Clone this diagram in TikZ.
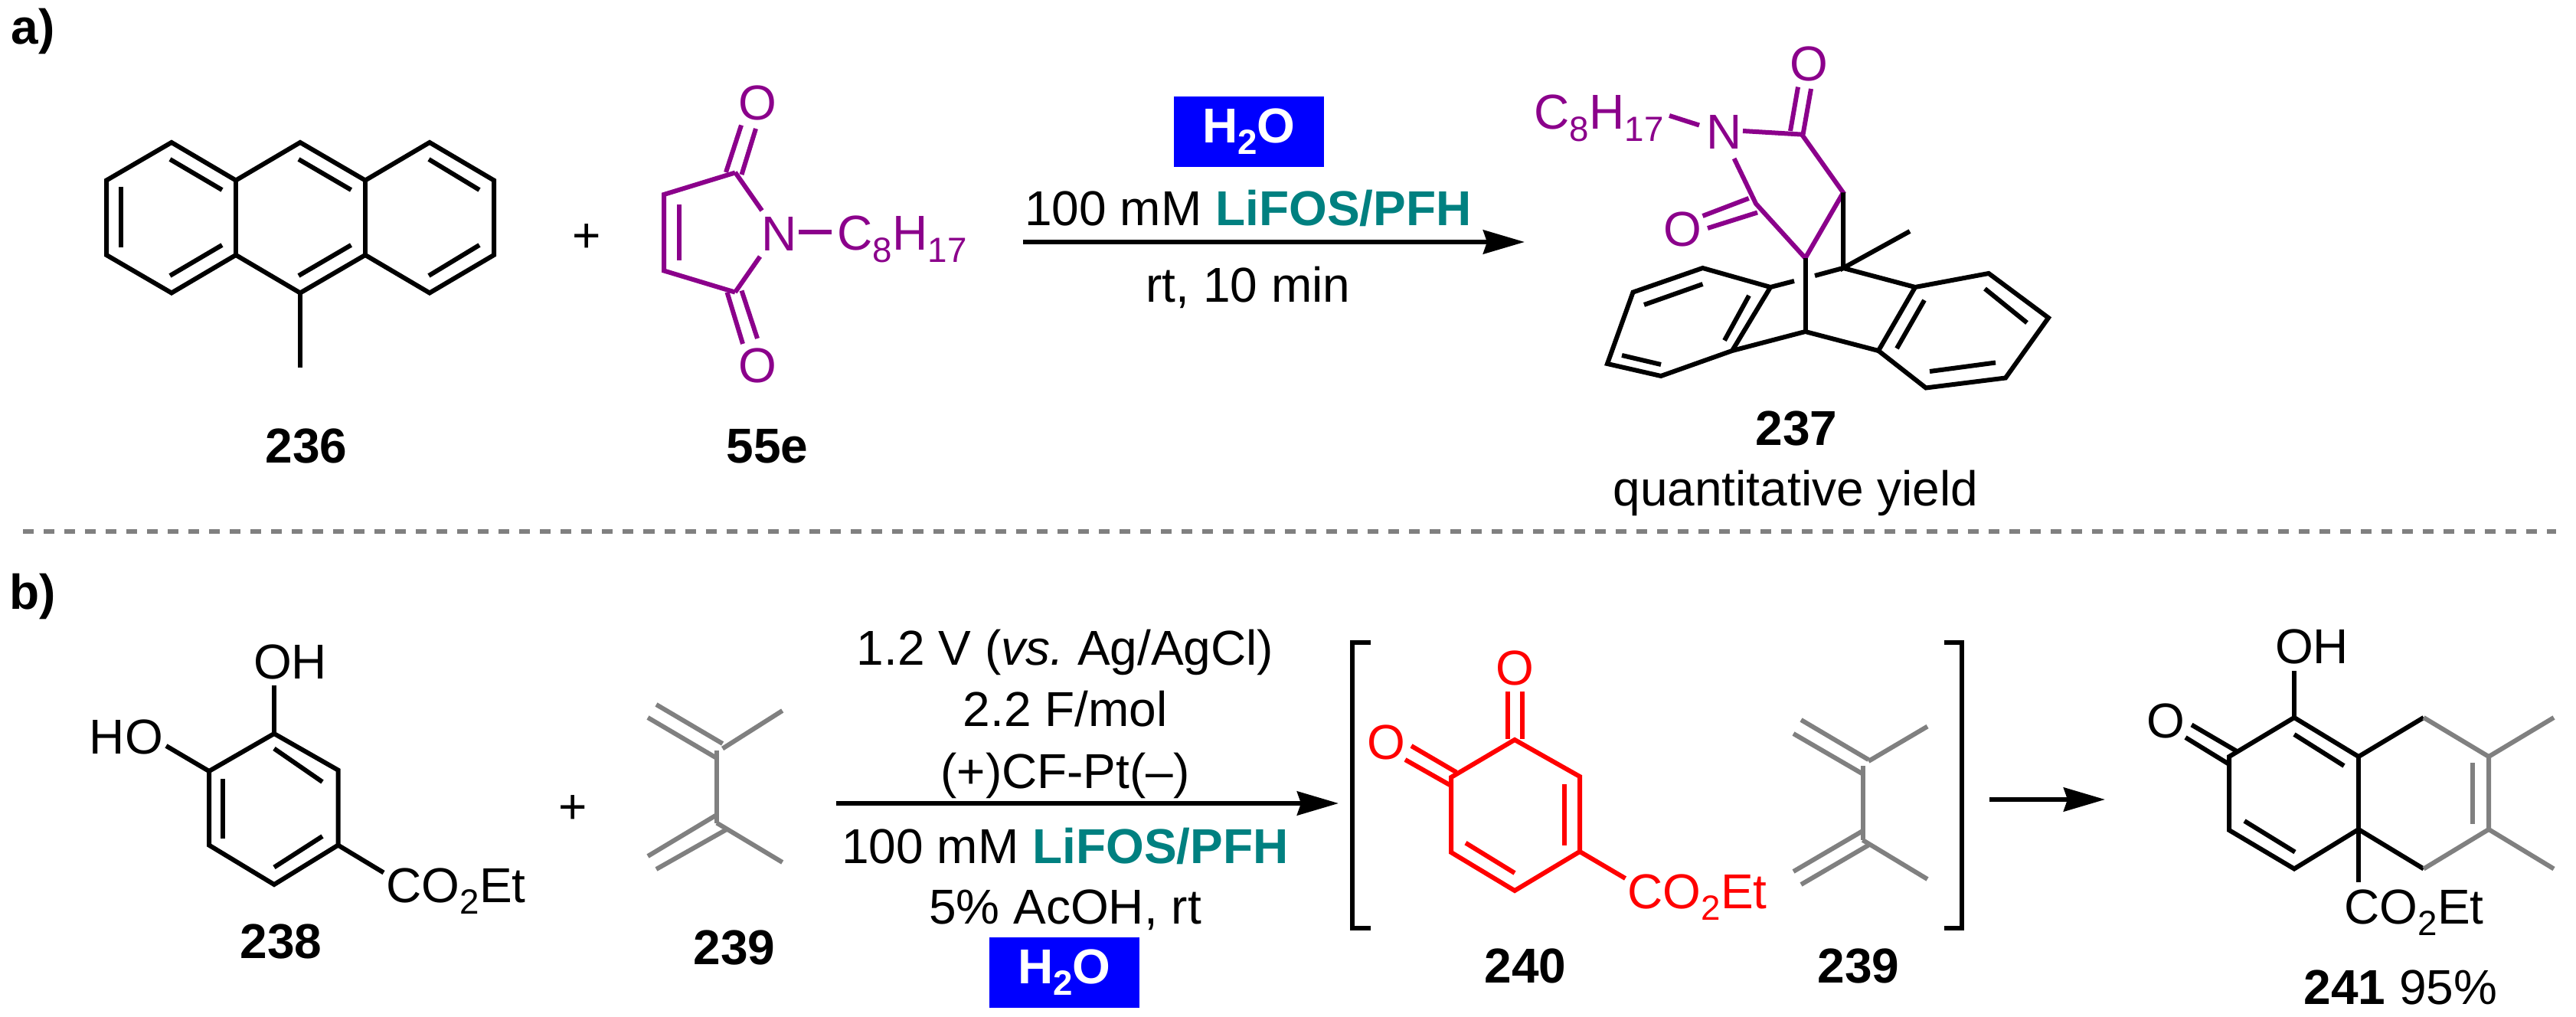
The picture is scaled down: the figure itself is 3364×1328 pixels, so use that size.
\documentclass[tikz,border=0pt]{standalone}
\usepackage{fontspec}
\setmainfont{Liberation Sans}
\usetikzlibrary{arrows.meta}
\definecolor{purp}{RGB}{139,0,139}
\definecolor{tealc}{RGB}{0,128,128}
\definecolor{grayc}{RGB}{128,128,128}
\newcommand{\subtxt}[1]{\raisebox{-4.3pt}{\fontsize{13}{13}\selectfont #1}}
\newcommand{\lifos}{\textcolor{tealc}{\textbf{LiFOS/PFH}}}
\tikzset{
bond/.style={line width=0.06cm,line join=miter},
lab/.style={inner sep=0pt,anchor=base,font=\fontsize{18.2}{22}\selectfont},
labw/.style={lab,anchor=base west},
rxn/.style={line width=0.06cm,-{Stealth[length=0.54cm,width=0.31cm,inset=0.05cm]}},
waterbox/.style={fill=blue,text=white,inner sep=0pt,minimum width=1.96cm,minimum height=0.92cm,font=\fontsize{18.2}{22}\selectfont\bfseries},
}
\begin{document}
\begin{tikzpicture}[x=0.01cm,y=-0.01cm]
\useasboundingbox(0,0)rectangle(3364,1328);
\node[lab](parta)at(43,58){\textbf{a)}};
\node[lab](partb)at(43,795){\textbf{b)}};
% 236
\draw[bond](139,235.5)--(224,186)--(308,235.5)--(392,186)--(477,235.5)--(561,186)--(645,235.5)--(645,333)--(561,382.5)--(477,333)--(392,382.5)--(308,333)--(224,382.5)--(139,333)--cycle;
\draw[bond](308,235.5)--(308,333);
\draw[bond](477,235.5)--(477,333);
\draw[bond](392,382.5)--(392,480.5);
\foreach \a/\b/\c/\d in {157.5/244/157.5/323,222/208/290/248,222/360/290/320,390/208/458.5/248,390/360/458.5/320,560/208/626/248,560/360/626/320}{\draw[bond](\a,\b)--(\c,\d);}
\node[lab](nameA)at(400,604){\textbf{236}};
\node[lab](plusA)at(766,330){+};
% 55e
\begin{scope}[purp]
\draw[bond](960,225.5)--(867,254)--(867,353.5)--(960,381.6);
\foreach \a/\b/\c/\d in {887/267.5/887/340.5,948/225/968/163.5,968.5/228/987/168,949.5/381.6/970/449,968.5/379.5/989/442,960/225/995/275,960/381.6/992.5/335,1043/303.5/1086/303.5}{\draw[bond](\a,\b)--(\c,\d);}
\node[lab](oxA)at(989,157){O};
\node[lab](oxB)at(989,500){O};
\node[lab](nitA)at(1018,328){N};
\node[labw](chainA)at(1093,327){C\subtxt{8}H\subtxt{17}};
\end{scope}
\node[lab](nameB)at(1002,604){\textbf{55e}};
% conditions a
\node[waterbox](waterA)at(1631,172){H\subtxt{2}O};
\node[lab](condA)at(1630,295){100 mM \lifos};
\coordinate(arrAs)at(1336,316);
\coordinate(arrAe)at(1991,316);
\draw[rxn](arrAs)--(arrAe);
\node[lab](condB)at(1630,395){rt, 10 min};
% 237
\begin{scope}[purp]
\draw[bond](2353,175.6)--(2407,251.5)--(2357.5,337)--(2293,266)--(2264.6,207);
\foreach \a/\b/\c/\d in {2180/151/2219/163.5,2276/171/2353/175.6,2338/171/2348/113.6,2354.5/175.6/2365/116,2223.5/282/2283.7/259,2230/298/2295/277.5}{\draw[bond](\a,\b)--(\c,\d);}
\node[labw](chainB)at(2003,169){C\subtxt{8}H\subtxt{17}};
\node[lab](nitB)at(2252,195){N};
\node[lab](oxC)at(2362,106){O};
\node[lab](oxD)at(2197.6,322){O};
\end{scope}
\draw[bond](2407,251.5)--(2407,350)--(2494,302);
\draw[bond](2407,350)--(2501,375)--(2597,357)--(2675,415)--(2619,493.5)--(2515,506.5)--(2453,458)--(2501,375);
\draw[bond](2407,350)--(2370,360);
\draw[bond](2343,367)--(2312,375)--(2223.5,350)--(2132.5,381.6)--(2099,475)--(2169,491)--(2262,458)--(2357.5,433)--(2453,458);
\draw[bond](2357.5,337)--(2357.5,433);
\draw[bond](2312,375)--(2262,458);
\foreach \a/\b/\c/\d in {2223.5/371/2147/398,2284/386/2252/444.5,2118/464/2169/476,2513/392/2477/455,2592/377/2647/421.5,2606/473.5/2520/485}{\draw[bond](\a,\b)--(\c,\d);}
\node[lab](nameC)at(2346,582){\textbf{237}};
\node[lab](yieldC)at(2345,660){quantitative yield};
% divider
\coordinate(divS)at(30,694);
\coordinate(divE)at(3338,694);
\draw[grayc,line width=0.055cm,dash pattern=on 0.14cm off 0.13cm](divS)--(divE);
% 238
\draw[bond](358,958)--(441.5,1005.6)--(441.5,1103.6)--(358,1155)--(273,1103.6)--(273,1007)--cycle;
\foreach \a/\b/\c/\d in {358/977.5/421/1021,290.7/1017/290.7/1095,421/1092/358/1132.5,358/958/358/895,273/1007/217/974,441.5/1103.6/501/1139.5}{\draw[bond](\a,\b)--(\c,\d);}
\node[lab](hoA)at(379,886){OH};
\node[lab](hoB)at(165,984){HO};
\node[labw](estA)at(504,1178){CO\subtxt{2}Et};
\node[lab](nameD)at(367,1251){\textbf{238}};
\node[lab](plusB)at(748,1075){+};
% 239
\begin{scope}[grayc]
\foreach \a/\b/\c/\d in {936/979.6/936/1074.6,943.6/977.5/1021.7/928,936/990/846/937,943.6/971/857/920,936/1064/846/1118,949/1083/857/1135,936/1074.6/1021.7/1126}{\draw[bond](\a,\b)--(\c,\d);}
\end{scope}
\node[lab](nameE)at(959,1259){\textbf{239}};
% conditions b
\node[lab](condC)at(1391,868){1.2 V (\textit{vs.}\ Ag/AgCl)};
\node[lab](condD)at(1391,948){2.2 F/mol};
\node[lab](condE)at(1391,1029){(+)CF-Pt(--)};
\coordinate(arrBs)at(1092,1049);
\coordinate(arrBe)at(1748,1049);
\draw[rxn](arrBs)--(arrBe);
\node[lab](condF)at(1391,1127){100 mM \lifos};
\node[lab](condG)at(1391,1206){5\% AcOH, rt};
\node[waterbox](waterB)at(1390,1270){H\subtxt{2}O};
% brackets
\draw[line width=0.06cm](1790,839)--(1766,839)--(1766,1212)--(1790,1212);
\draw[line width=0.06cm](2539,839)--(2562,839)--(2562,1212)--(2539,1212);
% 240
\begin{scope}[red]
\draw[bond](1978,966)--(2063,1014)--(2063,1112)--(1978,1163)--(1895,1113)--(1895,1015)--cycle;
\foreach \a/\b/\c/\d in {2043/1024/2043/1103.6,1978/1140/1914/1100.7,1968.6/903/1968.6/965,1987.7/903/1987.7/965,1843/974/1902/1008.5,1835/992/1895/1026,2063/1112/2122.5/1147}{\draw[bond](\a,\b)--(\c,\d);}
\node[lab](oxE)at(1978,894){O};
\node[lab](oxF)at(1810,991){O};
\node[labw](estB)at(2125,1186){CO\subtxt{2}Et};
\end{scope}
\node[lab](nameF)at(1992,1283){\textbf{240}};
% 239 again
\begin{scope}[grayc]
\foreach \a/\b/\c/\d in {2432.5/1000/2432.5/1097,2432.5/1010.6/2342/958,2440/992/2352/940,2440/994/2517/948.6,2432.5/1085/2342/1138,2440/1103.6/2352/1155,2432.5/1097/2517/1148}{\draw[bond](\a,\b)--(\c,\d);}
\end{scope}
\node[lab](nameG)at(2427,1283){\textbf{239}};
\coordinate(arrCs)at(2598,1044);
\coordinate(arrCe)at(2749,1044);
\draw[rxn](arrCs)--(arrCe);
% 241
\draw[bond](3165,1134.5)--(3080,1083)--(2996,1134.5)--(2911,1084)--(2911,988)--(2996,937)--(3080,988)--(3165,937);
\draw[bond](3080,988)--(3080,1152);
\foreach \a/\b/\c/\d in {2996/959/3061/1000,2931/1072/2997/1112.6,2996/937/2996/875.5,2862/946.5/2921/981,2854/963/2911/998}{\draw[bond](\a,\b)--(\c,\d);}
\begin{scope}[grayc]
\draw[bond](3165,937)--(3250,988)--(3250,1083)--(3165,1134.5);
\foreach \a/\b/\c/\d in {3229/996/3229/1076,3250/988/3335/937,3250/1083/3335/1134.5}{\draw[bond](\a,\b)--(\c,\d);}
\end{scope}
\node[lab](hoC)at(3019,866){OH};
\node[lab](oxG)at(2828,963){O};
\node[labw](estC)at(3061,1206){CO\subtxt{2}Et};
\node[labw](nameH)at(3008,1311){\textbf{241} 95\%};
\end{tikzpicture}
\end{document}
